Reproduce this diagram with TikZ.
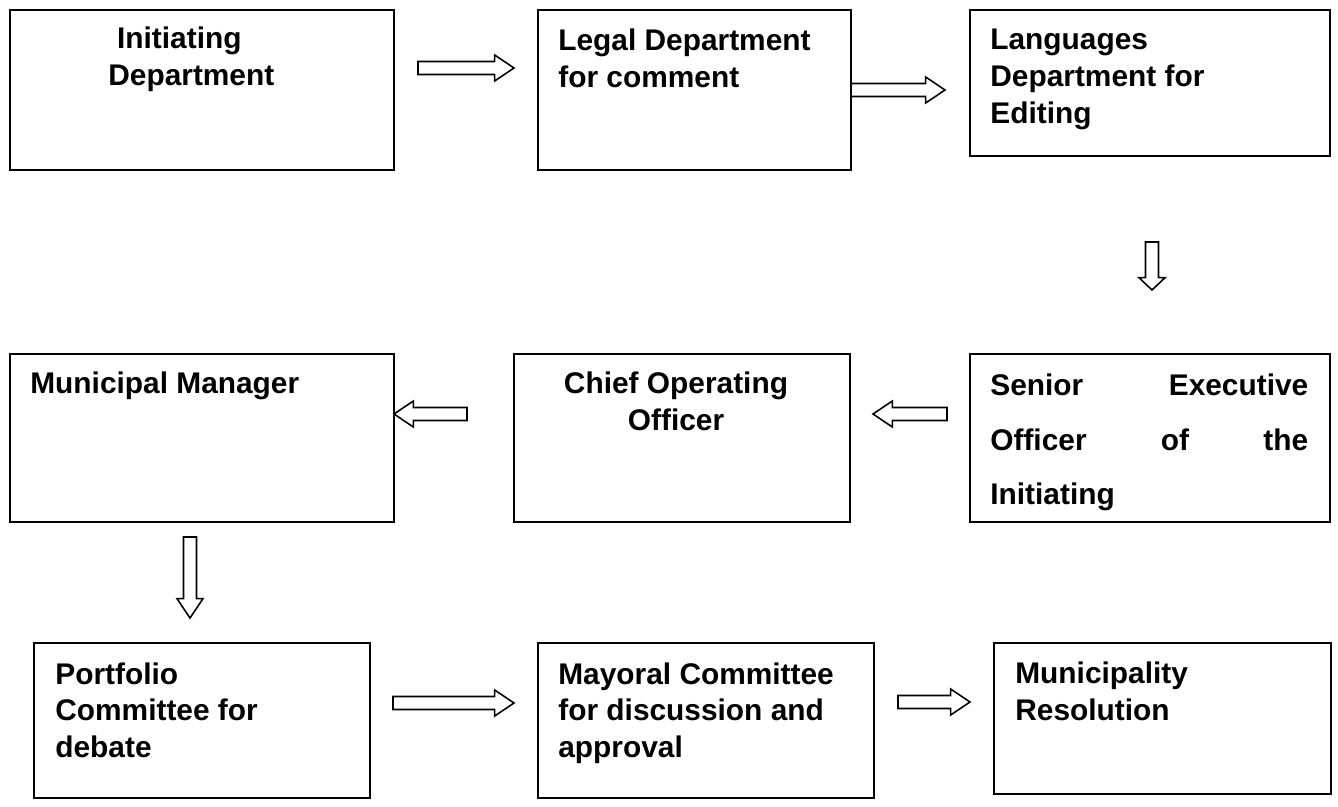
\documentclass[tikz,border=0pt]{standalone}
\usepackage{fontspec}
\setmainfont{Liberation Sans}
\usetikzlibrary{calc,fit}

\tikzset{
  box/.style={draw, line width=1pt, inner sep=0pt},
  txt/.style={anchor=north west, inner sep=0pt, align=left,
    font=\fontsize{17}{21}\selectfont\bfseries},
  blockarrow/.style={draw, line width=0.9pt, fill=white,
    to path={let \p1=(\tikztostart), \p2=(\tikztotarget),
      \n1={atan2(\y2-\y1,\x2-\x1)} in
      ($(\p1)+(\n1+90:3.7pt)$)
      -- ($(\p2)+(\n1+180:#1)+(\n1+90:3.7pt)$)
      -- ($(\p2)+(\n1+180:#1)+(\n1+90:7.4pt)$)
      -- (\p2)
      -- ($(\p2)+(\n1+180:#1)+(\n1-90:7.4pt)$)
      -- ($(\p2)+(\n1+180:#1)+(\n1-90:3.7pt)$)
      -- ($(\p1)+(\n1-90:3.7pt)$) -- cycle}},
  blockarrow/.default=11pt
}

\begin{document}
\begin{tikzpicture}[x=0.02cm, y=-0.02cm]
\useasboundingbox (0,0) rectangle (1338,807);

% top row
\node[box, fit={(10,10) (394,170)}] (init) {};
\node[box, fit={(538,10) (851,170)}] (legal) {};
\node[box, fit={(970,10) (1330,156)}] (lang) {};
\node[txt] (init-t) at (108,27) {\hspace*{5pt}Initiating\\Department};
\node[txt] (legal-t) at (558,29) {Legal Department\\for comment};
\node[txt] (lang-t) at (990,29) {Languages\\Department for\\Editing};

% middle row
\node[box, fit={(10,354) (394,522)}] (mm) {};
\node[box, fit={(514,354) (850,522)}] (coo) {};
\node[box, fit={(970,354) (1330,522)}] (seo) {};
\node[txt] (mm-t) at (30,372) {Municipal Manager};
\node[txt, anchor=north, align=center] (coo-t) at (676,372) {Chief Operating\\Officer};
\node[txt, font=\fontsize{17}{31}\selectfont\bfseries] (seo-t) at (990,374)
  {\makebox[6.36cm][s]{Senior Executive}\\\makebox[6.36cm][s]{Officer of the}\\Initiating};

% bottom row
\node[box, fit={(34,643) (370,798)}] (pc) {};
\node[box, fit={(538,643) (874,798)}] (mc) {};
\node[box, fit={(994,643) (1331,794)}] (res) {};
\node[txt] (pc-t) at (55,662) {Portfolio\\Committee for\\debate};
\node[txt] (mc-t) at (558,662) {Mayoral Committee\\for discussion and\\approval};
\node[txt] (res-t) at (1015,662) {Municipality\\Resolution};

% arrow ends
\coordinate (a1s) at (418,68);  \coordinate (a1e) at (514,68);
\coordinate (a2s) at (851,90);  \coordinate (a2e) at (945,90);
\coordinate (a3s) at (1152,242); \coordinate (a3e) at (1152,290);
\coordinate (a4s) at (947,414); \coordinate (a4e) at (873,414);
\coordinate (a5s) at (467,414); \coordinate (a5e) at (394,414);
\coordinate (a6s) at (190,537); \coordinate (a6e) at (190,618);
\coordinate (a7s) at (393,703); \coordinate (a7e) at (514,703);
\coordinate (a8s) at (898,702); \coordinate (a8e) at (970,702);

\draw[blockarrow] (a1s) to (a1e);
\draw[blockarrow] (a2s) to (a2e);
\draw[blockarrow=7pt] (a3s) to (a3e);
\draw[blockarrow] (a4s) to (a4e);
\draw[blockarrow] (a5s) to (a5e);
\draw[blockarrow] (a6s) to (a6e);
\draw[blockarrow] (a7s) to (a7e);
\draw[blockarrow] (a8s) to (a8e);
\end{tikzpicture}
\end{document}
